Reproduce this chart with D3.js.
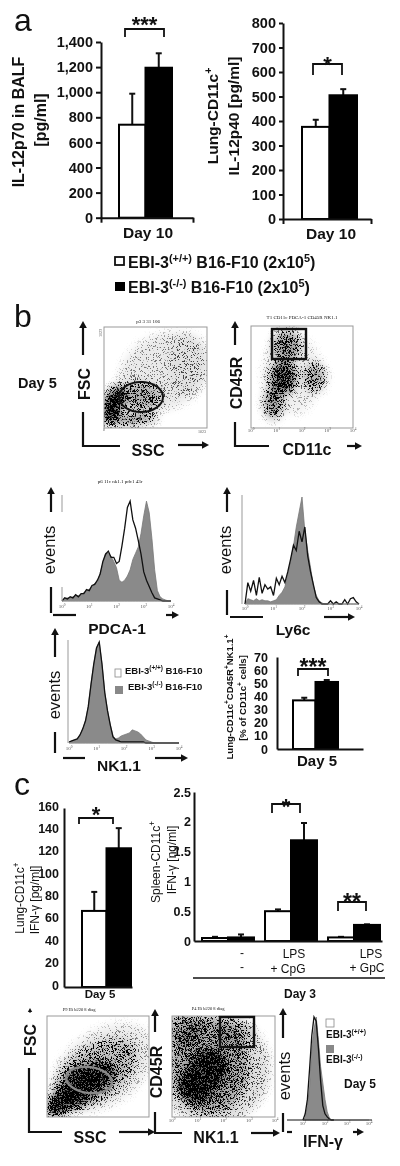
<!DOCTYPE html>
<html>
<head>
<meta charset="utf-8">
<script src="https://cdn.jsdelivr.net/npm/d3@7"></script>
<style>
  html, body { margin: 0; padding: 0; background: #fff; }
  svg { display: block; filter: blur(0.35px); }
  text { font-family: "Liberation Sans", Arial, sans-serif; fill: #111; }
</style>
</head>
<body>
<svg id="chart" width="400" height="1166"></svg>
<script>
const genotypes = ["wt", "ko"];

// panel a
const il12p70Mean = [741, 1195];
const il12p70Top = [988, 1310];
const il12p70Ticks = [0, 200, 400, 600, 800, 1000, 1200, 1400];
const il12p40Mean = [376, 505];
const il12p40Top = [405, 530];
const il12p40Ticks = [0, 100, 200, 300, 400, 500, 600, 700, 800];

// panel b, bars
const pctMean = [37, 51];
const pctTop = [39, 52.5];
const pctTicks = [0, 10, 20, 30, 40, 50, 60, 70];

// panel c, bars
const lungIfnMean = [68, 124];
const lungIfnTop = [85, 142];
const lungIfnTicks = [0, 20, 40, 60, 80, 100, 120, 140, 160];
const spleenGroups = ["none", "CpG", "GpC"];
const spleenWt = [0.05, 0.5, 0.06];
const spleenKo = [0.06, 1.69, 0.27];
const spleenWtTop = [0.07, 0.53, 0.07];
const spleenKoTop = [0.11, 1.98, 0.28];
const spleenTicks = [0, 0.5, 1, 1.5, 2, 2.5];

// histograms: log10 channel every 0.1 decade, percent of peak
const histLog = [0, .1, .2, .3, .4, .5, .6, .7, .8, .9, 1, 1.1, 1.2, 1.3, 1.4, 1.5, 1.6, 1.7, 1.8, 1.9, 2,
  2.1, 2.2, 2.3, 2.4, 2.5, 2.6, 2.7, 2.8, 2.9, 3, 3.1, 3.2, 3.3, 3.4, 3.5, 3.6, 3.7, 3.8, 3.9, 4];
const pdcaKo = [0, 2, 3, 3, 4, 5, 5, 6, 8, 10, 11, 14, 17, 18, 27, 36, 46, 46, 43, 38, 32,
  20, 18, 20, 24, 30, 40, 46, 52, 65, 82, 96, 85, 60, 30, 10, 4, 2, 1, 0, 0];
const pdcaWt = [0, 3, 2, 4, 3, 6, 4, 7, 7, 11, 10, 15, 16, 20, 26, 38, 45, 48, 42, 42, 36,
  38, 53, 70, 90, 96, 78, 70, 58, 45, 28, 20, 14, 8, 3, 2, 1, 0, 0, 0, 0];
const ly6cKo = [0, 5, 4, 3, 5, 3, 4, 3, 3, 2, 3, 4, 8, 11, 16, 28, 40, 54, 72, 86, 100,
  68, 50, 34, 17, 8, 3, 1, 0, 0, 0, 0, 0, 0, 0, 0, 0, 0, 0, 0, 0];
const ly6cWt = [0, 20, 12, 22, 8, 25, 10, 18, 14, 16, 8, 24, 18, 26, 20, 30, 42, 55, 50, 68, 58,
  72, 45, 30, 18, 6, 2, 0, 0, 0, 3, 0, 2, 0, 0, 4, 0, 5, 6, 2, 0];
const nkKo = [1, 2, 3, 4, 8, 14, 22, 36, 58, 78, 94, 100, 78, 50, 32, 18, 7, 4, 5, 7, 8,
  9, 10, 13, 12, 11, 9, 6, 3, 2, 1, 0, 0, 0, 0, 0, 0, 0, 0, 0, 0];
const nkWt = [1, 2, 3, 4, 8, 14, 22, 36, 58, 78, 94, 100, 78, 50, 32, 18, 6, 3, 2, 1, 1,
  1, 1, 1, 1, 1, 1, 1, 0, 0, 0, 0, 0, 0, 0, 0, 0, 0, 0, 0, 0];
const ifnLog = [1, 1.1, 1.2, 1.3, 1.4, 1.5, 1.6, 1.7, 1.8, 1.9, 2, 2.1, 2.2, 2.3, 2.4];
const ifnKo = [0, 2, 14, 32, 70, 88, 100, 78, 52, 36, 20, 8, 2, 0, 0];
const ifnWt = [0, 6, 20, 50, 82, 100, 96, 70, 38, 14, 6, 3, 1, 0, 0];

const ssc1Clouds = [
  [90, 235, 90, 200, 1, 20], [290, 90, 240, 55, .6, -5], [363, 319, 210, 140, .42, 0],
  [600, 570, 480, 370, .14, -30], [830, 640, 190, 320, .07, 0]
];
const cd11cClouds = [
  [1.4, 3.22, .55, .6, .55, 0], [1.27, 1.99, .5, .65, .8, 0], [.88, 1, .36, .65, .6, 0],
  [2.5, 1.99, .42, .55, .45, 0], [1.6, 2.1, 1.15, 1.55, .1, 0]
];
const ssc2Clouds = [
  [161, 158, 190, 110, 1, -35], [295, 258, 260, 140, 1, -35], [429, 392, 270, 140, 1, -20],
  [480, 440, 480, 270, .32, -35], [570, 500, 560, 370, .12, -35]
];
const nkClouds = [
  [1.34, 1.78, .7, .95, 1, 30], [.95, 1.25, .7, .7, 1, 0], [1.47, 2.04, 1.5, 1.9, .42, 0],
  [.43, 3.49, .7, .7, .42, 0], [2.5, 3.36, .65, .53, .28, 0], [1.6, 1.9, 2.2, 2.2, .2, 0]
];

const decades = [0, 1, 2, 3, 4];
const svg = d3.select("#chart");

// stipple: blurred density minus a noise field, so dark clouds break into specks
const defs = svg.append("defs");
const stipple = defs.append("filter").attr("id", "stipple")
  .attr("filterUnits", "userSpaceOnUse")
  .attr("x", 0).attr("y", 0).attr("width", 400).attr("height", 1166)
  .attr("color-interpolation-filters", "sRGB");
stipple.append("feGaussianBlur").attr("in", "SourceAlpha").attr("stdDeviation", 4).attr("result", "density");
stipple.append("feTurbulence").attr("type", "fractalNoise").attr("baseFrequency", 1.73)
  .attr("numOctaves", 1).attr("seed", 4).attr("result", "turb");
stipple.append("feColorMatrix").attr("in", "turb").attr("type", "matrix")
  .attr("values", "0 0 0 0 0  0 0 0 0 0  0 0 0 0 0  0 0 0 4 -1.5").attr("result", "noise");
stipple.append("feComposite").attr("in", "density").attr("in2", "noise")
  .attr("operator", "arithmetic").attr("k1", 0).attr("k2", 1).attr("k3", -1).attr("k4", 0).attr("result", "diff");
stipple.append("feColorMatrix").attr("in", "diff").attr("type", "matrix")
  .attr("values", "0 0 0 0 0  0 0 0 0 0  0 0 0 0 0  0 0 0 3.5 0").attr("result", "specks");
stipple.append("feGaussianBlur").attr("in", "specks").attr("stdDeviation", 0.3);

// soft undertone below the specks, the reference is a blurred scan
const undertone = defs.append("filter").attr("id", "undertone")
  .attr("filterUnits", "userSpaceOnUse")
  .attr("x", 0).attr("y", 0).attr("width", 400).attr("height", 1166);
undertone.append("feGaussianBlur").attr("in", "SourceAlpha").attr("stdDeviation", 4);

function label(x, y, parts, opts = {}) {
  const size = opts.size || 15;
  const t = svg.append("text")
    .attr("transform", `translate(${x},${y})${opts.rotate ? ` rotate(${opts.rotate})` : ""}`)
    .attr("text-anchor", opts.anchor || "middle")
    .attr("font-size", size)
    .attr("font-weight", opts.weight || "bold");
  if (opts.fill) t.style("fill", opts.fill);
  if (opts.serif) t.style("font-family", "'Liberation Serif', serif");
  const list = typeof parts === "string" ? [parts] : parts;
  let lift = 0;
  list.forEach((p) => {
    const sup = Array.isArray(p);
    const raise = sup ? size * 0.38 : 0;
    t.append("tspan")
      .attr("font-size", sup ? size * 0.68 : size)
      .attr("dy", lift - raise)
      .text(sup ? p[0] : p);
    lift = raise;
  });
  return t;
}

function arrow(x1, y1, x2, y2, w = 2.2, head = 7) {
  const a = Math.atan2(y2 - y1, x2 - x1);
  const bx = x2 - head * Math.cos(a), by = y2 - head * Math.sin(a);
  svg.append("line").attr("x1", x1).attr("y1", y1).attr("x2", bx).attr("y2", by)
    .attr("stroke", "#111").attr("stroke-width", w);
  const nx = -Math.sin(a) * head * 0.55, ny = Math.cos(a) * head * 0.55;
  svg.append("path").attr("fill", "#111")
    .attr("d", `M${x2},${y2}L${bx + nx},${by + ny}L${bx - nx},${by - ny}Z`);
}

function corner(pts, w = 2.2) {
  svg.append("path").attr("d", d3.line()(pts)).attr("fill", "none")
    .attr("stroke", "#111").attr("stroke-width", w);
}

function bracket(x1, x2, yTop, yBottom, stars, starY, starSize) {
  corner([[x1, yBottom], [x1, yTop], [x2, yTop], [x2, yBottom]], 1.8);
  label((x1 + x2) / 2, starY + 0.56 * starSize, stars, { size: starSize });
}

function drawBars(g, xScale, y, means, tops, keys, barStroke) {
  keys.forEach((k, i) => {
    const x = xScale(k);
    const w = xScale.bandwidth();
    g.append("line").attr("x1", x + w / 2).attr("x2", x + w / 2)
      .attr("y1", y(means[i])).attr("y2", y(tops[i]))
      .attr("stroke", "#111").attr("stroke-width", 2);
    g.append("line").attr("x1", x + w / 2 - 3).attr("x2", x + w / 2 + 3)
      .attr("y1", y(tops[i])).attr("y2", y(tops[i]))
      .attr("stroke", "#111").attr("stroke-width", 2);
    g.append("rect")
      .attr("x", x).attr("y", y(means[i]))
      .attr("width", w).attr("height", y(0) - y(means[i]))
      .attr("fill", i % 2 === 0 ? "#fff" : "#000")
      .attr("stroke", "#000").attr("stroke-width", barStroke);
  });
}

function yAxis(x, y, ticks, fmt, size, tickLen, labelDy = 0) {
  const g = svg.append("g").attr("transform", `translate(${x},0)`)
    .call(d3.axisLeft(y).tickValues(ticks).tickFormat(fmt).tickSize(tickLen).tickSizeOuter(0).tickPadding(3));
  g.select(".domain").attr("stroke", "#111").attr("stroke-width", 2);
  g.selectAll(".tick line").attr("stroke", "#111").attr("stroke-width", 2);
  g.selectAll(".tick text")
    .attr("font-size", size).attr("font-weight", "bold").attr("dy", 0.32 * size + labelDy)
    .style("font-family", "'Liberation Sans', Arial, sans-serif").style("fill", "#111");
  return g;
}

function xBaseline(y, x0, x1, endTicks) {
  const s = d3.scaleLinear().domain([0, 1]).range([x0, x1]);
  const g = svg.append("g").attr("transform", `translate(0,${y})`)
    .call(d3.axisBottom(s).tickValues(endTicks ? [0, 1] : []).tickFormat("").tickSize(endTicks).tickSizeOuter(0));
  g.select(".domain").attr("stroke", "#111").attr("stroke-width", 2);
  g.selectAll(".tick line").attr("stroke", "#111").attr("stroke-width", 2);
}

function tinyDecades(x, y, ticks) {
  ticks.forEach((d) => {
    label(x(d), y, ["10", [String(d)]], { size: 5, weight: "normal", fill: "#555", serif: true });
  });
}

function dotPlot(box, xDomain, yDomain, clouds, idx) {
  const x = d3.scaleLinear().domain(xDomain).range([box[0], box[2]]);
  const y = d3.scaleLinear().domain(yDomain).range([box[3], box[1]]);
  const rx = (v) => Math.abs(x(v) - x(0));
  const ry = (v) => Math.abs(y(v) - y(0));
  defs.append("clipPath").attr("id", `clip${idx}`).append("rect")
    .attr("x", box[0]).attr("y", box[1]).attr("width", box[2] - box[0]).attr("height", box[3] - box[1]);
  const host = svg.append("g").attr("clip-path", `url(#clip${idx})`);
  [["undertone", 0.6], ["stipple", 1]].forEach(([filterId, strength]) => {
    const g = host.append("g").attr("filter", `url(#${filterId})`).attr("opacity", strength);
    g.selectAll("ellipse").data(clouds).join("ellipse")
      .attr("cx", (d) => x(d[0])).attr("cy", (d) => y(d[1]))
      .attr("rx", (d) => rx(d[2])).attr("ry", (d) => ry(d[3]))
      .attr("fill-opacity", (d) => d[4])
      .attr("transform", (d) => `rotate(${d[5]},${x(d[0])},${y(d[1])})`);
  });
  svg.append("rect").attr("x", box[0]).attr("y", box[1])
    .attr("width", box[2] - box[0]).attr("height", box[3] - box[1])
    .attr("fill", "none").attr("stroke", "#999").attr("stroke-width", 1);
  return { x, y };
}

function histogram(logs, ko, wt, xDomain, xRange, yRange, axisX, ticks, tickY, axisSegments) {
  const x = d3.scaleLinear().domain(xDomain).range(xRange);
  const y = d3.scaleLinear().domain([0, 100]).range(yRange);
  const area = d3.area().x((d, i) => x(logs[i])).y0(y(0)).y1((d) => y(d));
  const line = d3.line().x((d, i) => x(logs[i])).y((d) => y(d));
  svg.append("path").attr("d", area(ko)).attr("fill", "#8a8a8a").attr("stroke", "#777").attr("stroke-width", 0.8);
  svg.append("path").attr("d", line(wt)).attr("fill", "none").attr("stroke", "#111").attr("stroke-width", 1.3);
  if (axisX !== null) {
    (axisSegments || [[yRange[1] - 2, yRange[0]]]).forEach((seg) => {
      svg.append("line").attr("x1", axisX).attr("x2", axisX).attr("y1", seg[0]).attr("y2", seg[1])
        .attr("stroke", "#999").attr("stroke-width", 1);
    });
  }
  svg.append("line").attr("x1", xRange[0]).attr("x2", xRange[1]).attr("y1", yRange[0]).attr("y2", yRange[0])
    .attr("stroke", "#999").attr("stroke-width", 0.8);
  tinyDecades(x, tickY, ticks);
}

const fmtInt = d3.format(",");
const fmtPlain = (d) => String(d);

// ---------- a ----------
label(14, 31, "a", { size: 32, weight: "normal", anchor: "start" });

const yA1 = d3.scaleLinear().domain([0, 1400]).range([217.7, 42]);
const xA1 = d3.scaleBand().domain(genotypes).range([119, 172]);
drawBars(svg, xA1, yA1, il12p70Mean, il12p70Top, genotypes, 2);
xBaseline(217.7, 101, 193, 5);
yAxis(101, yA1, il12p70Ticks, fmtInt, 14.5, 5);
bracket(125, 164, 29, 37, "***", 20, 22);
label(24, 122, "IL-12p70 in BALF", { rotate: -90, size: 16 });
label(46, 120, "[pg/ml]", { rotate: -90, size: 16 });
label(148, 238, "Day 10", { size: 15.5 });

const yA2 = d3.scaleLinear().domain([0, 800]).range([219, 23]);
const xA2 = d3.scaleBand().domain(genotypes).range([302, 357]);
drawBars(svg, xA2, yA2, il12p40Mean, il12p40Top, genotypes, 2);
xBaseline(219, 283, 371, 5);
yAxis(283, yA2, il12p40Ticks, fmtPlain, 14.5, 4);
bracket(313, 342, 64, 75, "*", 60, 22);
label(218, 116, ["Lung-CD11c", ["+"]], { rotate: -90, size: 15.5 });
label(239, 116, "IL-12p40 [pg/ml]", { rotate: -90, size: 15.5 });
label(331, 239, "Day 10", { size: 15.5 });

svg.append("rect").attr("x", 115).attr("y", 257).attr("width", 9).attr("height", 8)
  .attr("fill", "#fff").attr("stroke", "#111").attr("stroke-width", 1.8);
label(128, 268, ["EBI-3", ["(+/+)"], " B16-F10 (2x10", ["5"], ")"], { anchor: "start", size: 16 });
svg.append("rect").attr("x", 115).attr("y", 282).attr("width", 10).attr("height", 9).attr("fill", "#000");
label(128, 293, ["EBI-3", ["(-/-)"], " B16-F10 (2x10", ["5"], ")"], { anchor: "start", size: 16 });

// ---------- b ----------
label(14, 327, "b", { size: 32, weight: "normal", anchor: "start" });
label(18, 388, "Day 5", { size: 14.5, anchor: "start" });

dotPlot([104, 327, 207, 428], [0, 1023], [0, 1023], ssc1Clouds, 1);
svg.append("ellipse").attr("cx", 141).attr("cy", 397).attr("rx", 22).attr("ry", 15)
  .attr("fill", "none").attr("stroke", "#111").attr("stroke-width", 2);
label(148, 323, "p3 3 31 106", { size: 5, weight: "normal", serif: true });
label(104, 431, "0", { size: 4, weight: "normal", serif: true, fill: "#555" });
label(202, 433, "1023", { size: 4, weight: "normal", serif: true, fill: "#555" });
label(102, 333, "1023", { size: 4, weight: "normal", serif: true, fill: "#555", rotate: -90 });
arrow(83, 355, 83, 321);
corner([[83, 412], [83, 446], [120, 446]]);
arrow(178, 445, 209, 445);
label(90, 384, "FSC", { rotate: -90, size: 16 });
label(148, 456, "SSC", { size: 16 });

const dot2 = dotPlot([251, 326, 353, 428], [0, 4], [0, 4], cd11cClouds, 2);
svg.append("rect").attr("x", 272).attr("y", 329).attr("width", 34).attr("height", 30)
  .attr("fill", "none").attr("stroke", "#111").attr("stroke-width", 2.4);
label(302, 319, "T1 CD11c PDCA-1 CD45R NK1.1", { size: 5, weight: "normal", serif: true });
tinyDecades(dot2.x, 432, decades);
arrow(235, 345, 235, 321);
corner([[235, 422], [235, 446], [269, 446]]);
arrow(347, 446, 362, 446);
label(242, 383, "CD45R", { rotate: -90, size: 16 });
label(307, 455, "CD11c", { size: 16 });

label(120, 483, "p6 11c nk1.1 pdc1 43r", { size: 5, weight: "normal", serif: true });
histogram(histLog, pdcaKo, pdcaWt, [0, 4], [62, 171], [601, 497], 62, decades, 608, [[495, 512], [587, 601]]);
arrow(51, 512, 51, 487);
corner([[51, 587], [51, 613]]);
corner([[53, 615], [76, 615]]);
arrow(166, 615, 179, 615);
label(55, 550, "events", { rotate: -90, size: 16.5, weight: "normal" });
label(117, 634, "PDCA-1", { size: 15.5 });

histogram(histLog, ly6cKo, ly6cWt, [0, 4], [245, 359], [604, 497], 242, decades, 610);
arrow(227, 512, 227, 487);
corner([[227, 590], [227, 615]]);
corner([[230, 617], [263, 617]]);
arrow(324, 617, 355, 617);
label(231, 550, "events", { rotate: -90, size: 16.5, weight: "normal" });
label(293, 635, "Ly6c", { size: 15.5 });

histogram(histLog, nkKo, nkWt, [0, 4], [69, 179], [743, 642], 68, decades, 750);
arrow(55, 657, 55, 628);
corner([[55, 732], [55, 753]]);
corner([[63, 758], [85, 758]]);
arrow(155, 758, 188, 758);
label(60, 695, "events", { rotate: -90, size: 16.5, weight: "normal" });
label(119, 771, "NK1.1", { size: 15.5 });
svg.append("rect").attr("x", 115).attr("y", 669).attr("width", 6).attr("height", 8)
  .attr("fill", "#fff").attr("stroke", "#888").attr("stroke-width", 0.8);
label(125, 674, ["EBI-3", ["(+/+)"], " B16-F10"], { anchor: "start", size: 9.5 });
svg.append("rect").attr("x", 115).attr("y", 686).attr("width", 8).attr("height", 8).attr("fill", "#888");
label(128, 690, ["EBI-3", ["(-/-)"], " B16-F10"], { anchor: "start", size: 9.5 });

const yPct = d3.scaleLinear().domain([0, 70]).range([749, 657]);
const xPct = d3.scaleBand().domain(genotypes).range([293, 338]);
drawBars(svg, xPct, yPct, pctMean, pctTop, genotypes, 2);
xBaseline(749, 277, 363, 0);
yAxis(277, yPct, pctTicks, fmtPlain, 12.5, 0, 0).selectAll(".tick text").attr("dx", -6);
bracket(298, 328, 669, 676, "***", 662, 23);
label(233, 697, ["Lung-CD11c", ["+"], "CD45R", ["+"], "NK1.1", ["+"]], { rotate: -90, size: 9.5 });
label(246, 698, ["[% of CD11c", ["+"], " cells]"], { rotate: -90, size: 9.5 });
label(317, 766, "Day 5", { size: 15 });

// ---------- c ----------
label(14, 795, "c", { size: 32, weight: "normal", anchor: "start" });

const yIfn = d3.scaleLinear().domain([0, 160]).range([987, 808]);
const xIfn = d3.scaleBand().domain(genotypes).range([82, 131]);
drawBars(svg, xIfn, yIfn, lungIfnMean, lungIfnTop, genotypes, 2);
xBaseline(987, 64, 132, 0);
yAxis(64, yIfn, lungIfnTicks, fmtPlain, 12.5, 0, -2).selectAll(".tick text").attr("dx", -2);
bracket(79, 113, 818, 824, "*", 810, 22);
label(24, 898, ["Lung-CD11c", ["+"]], { rotate: -90, size: 12, weight: "normal" });
label(39, 900, "IFN-γ [pg/ml]", { rotate: -90, size: 12, weight: "normal" });
label(100, 998, "Day 5", { size: 11.5 });

const ySpleen = d3.scaleLinear().domain([0, 2.5]).range([941, 792]);
const xSpleen = d3.scaleBand().domain(spleenGroups).range([202, 380]).paddingInner(0.175);
const xSub = d3.scaleBand().domain(genotypes).range([0, xSpleen.bandwidth()]);
spleenGroups.forEach((g, i) => {
  const sub = svg.append("g").attr("transform", `translate(${xSpleen(g)},0)`);
  drawBars(sub, xSub, ySpleen, [spleenWt[i], spleenKo[i]], [spleenWtTop[i], spleenKoTop[i]], genotypes, 2);
});
xBaseline(941, 194, 382, 0);
yAxis(194, ySpleen, spleenTicks, fmtPlain, 12.5, 0, 0).selectAll(".tick text").attr("dx", 0);
bracket(272, 300, 804, 813, "*", 802, 22);
bracket(338, 366, 902, 911, "**", 897, 23);
label(160, 862, ["Spleen-CD11c", ["+"]], { rotate: -90, size: 12, weight: "normal" });
label(176, 860, "IFN-γ [ng/ml]", { rotate: -90, size: 12, weight: "normal" });
label(242, 957, "-", { size: 12, weight: "normal" });
label(242, 971, "-", { size: 12, weight: "normal" });
label(294, 958, "LPS", { size: 12, weight: "normal" });
label(288, 973, "+ CpG", { size: 12, weight: "normal" });
label(371, 958, "LPS", { size: 12, weight: "normal" });
label(367, 972, "+ GpC", { size: 12, weight: "normal" });
corner([[193, 978], [385, 978]], 1.6);
label(300, 998, "Day 3", { size: 12 });

// bottom row
dotPlot([47, 1016, 149, 1117], [0, 1023], [0, 1023], ssc2Clouds, 3);
svg.append("ellipse").attr("cx", 89).attr("cy", 1080).attr("rx", 23).attr("ry", 13)
  .attr("transform", "rotate(8,89,1080)")
  .attr("fill", "none").attr("stroke", "#888").attr("stroke-width", 2.4);
label(79, 1011, "P9 Hi b220 8 diag", { size: 4.5, weight: "normal", serif: true });
arrow(30, 1013, 30, 1008, 1, 4);
corner([[29, 1068], [29, 1132], [62, 1132]]);
arrow(119, 1132, 155, 1132);
label(36, 1040, "FSC", { rotate: -90, size: 16 });
label(90, 1143, "SSC", { size: 16 });

const dot4 = dotPlot([172, 1016, 275, 1117], [0, 4], [0, 4], nkClouds, 4);
svg.append("rect").attr("x", 220).attr("y", 1017).attr("width", 34).attr("height", 30)
  .attr("fill", "none").attr("stroke", "#111").attr("stroke-width", 2.4);
label(208, 1010, "P4 Hi b220 8 diag", { size: 4.5, weight: "normal", serif: true });
tinyDecades(dot4.x, 1122, decades);
arrow(155, 1032, 155, 1009);
corner([[155, 1112], [155, 1133], [182, 1133]]);
arrow(251, 1133, 280, 1133);
label(162, 1072, "CD45R", { rotate: -90, size: 16 });
label(216, 1143, "NK1.1", { size: 16 });

histogram(ifnLog, ifnKo, ifnWt, [1, 4], [303, 369], [1120, 1017], null, [1, 2, 3, 4], 1125);
svg.append("line").attr("x1", 287).attr("x2", 372).attr("y1", 1120).attr("y2", 1120)
  .attr("stroke", "#111").attr("stroke-width", 1.2);
arrow(283, 1038, 283, 1008);
corner([[283, 1113], [283, 1132]]);
corner([[287, 1132], [292, 1132]]);
arrow(353, 1132, 364, 1132);
label(290, 1076, "events", { rotate: -90, size: 16.5, weight: "normal" });
label(323, 1147, "IFN-γ", { size: 16 });
svg.append("rect").attr("x", 326).attr("y", 1019).attr("width", 8).attr("height", 8)
  .attr("fill", "#fff").attr("stroke", "#888").attr("stroke-width", 0.8);
label(326, 1038, ["EBI-3", ["(+/+)"]], { anchor: "start", size: 10 });
svg.append("rect").attr("x", 326).attr("y", 1045).attr("width", 8).attr("height", 8).attr("fill", "#888");
label(326, 1063, ["EBI-3", ["(-/-)"]], { anchor: "start", size: 10 });
label(344, 1088, "Day 5", { anchor: "start", size: 12 });
</script>
</body>
</html>
